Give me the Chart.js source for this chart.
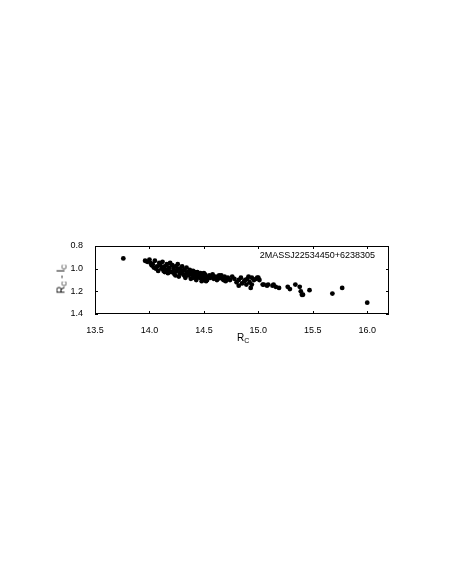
<!DOCTYPE html>
<html>
<head>
<meta charset="utf-8">
<script src="https://cdn.jsdelivr.net/npm/chart.js@4/dist/chart.umd.min.js"></script>
<style>
  html, body { margin: 0; padding: 0; background: #fff; }
  .wrap { position: relative; width: 452px; height: 585px; }
  canvas { position: absolute; left: 0; top: 0; }
  .axis-title { position: absolute; font: 10px "Liberation Sans", Arial, sans-serif; color: #000; white-space: nowrap; }
  .axis-title sub { font-size: 7px; vertical-align: -2px; }
  .x-title { left: 237px; top: 332px; }
  .y-title { left: 47px; top: 273px; transform: rotate(-90deg); transform-origin: center; }
</style>
</head>
<body>
<div class="wrap">
  <canvas id="cmd" width="452" height="585"></canvas>
  <div class="axis-title x-title">R<sub>C</sub></div>
  <div class="axis-title y-title">R<sub>C</sub> - I<sub>C</sub></div>
</div>
<script>
// Photometry (Rc magnitude vs Rc - Ic colour)
const starName = "2MASSJ22534450+6238305";
const magR = [
  13.76,
  13.96, 13.98, 14.00, 14.01, 14.02, 14.03, 14.04, 14.05, 14.06, 14.07, 14.08, 14.09,
  14.10, 14.11, 14.12, 14.12, 14.13, 14.14, 14.14, 14.15, 14.16, 14.17, 14.18, 14.18,
  14.19, 14.20, 14.21, 14.22, 14.22, 14.23, 14.24, 14.24, 14.25, 14.26, 14.26, 14.27,
  14.28, 14.28, 14.29, 14.30, 14.30, 14.31, 14.32, 14.32, 14.33, 14.34, 14.34, 14.35,
  14.36, 14.36, 14.37, 14.38, 14.38, 14.39, 14.40, 14.40, 14.41, 14.42, 14.42, 14.43,
  14.44, 14.44, 14.45, 14.46, 14.46, 14.47, 14.48, 14.48, 14.49, 14.50, 14.50, 14.51,
  14.52, 14.52, 14.53, 14.54, 14.55, 14.56, 14.57, 14.58, 14.59, 14.60, 14.61, 14.62,
  14.63, 14.64, 14.65, 14.66, 14.67, 14.68, 14.69, 14.70, 14.71, 14.72, 14.74, 14.76,
  14.78, 14.80, 14.82, 14.82, 14.84, 14.85, 14.87, 14.88, 14.89, 14.90, 14.91, 14.92,
  14.93, 14.94, 14.94, 14.96, 14.98, 14.99, 15.00, 15.01,
  15.04, 15.05, 15.08, 15.09, 15.13, 15.14, 15.16, 15.19, 15.27, 15.29, 15.34, 15.38,
  15.39, 15.40, 15.41, 15.47, 15.68, 15.77, 16.00
];
const colourRI = [
  0.91,
  0.93, 0.94, 0.92, 0.95, 0.97, 0.96, 0.99, 0.93, 1.00, 0.98, 1.02, 0.95,
  0.97, 1.00, 0.94, 0.99, 1.02, 0.98, 1.03, 1.01, 0.96, 1.04, 0.99, 1.02,
  0.95, 1.03, 0.97, 1.00, 1.03, 1.05, 0.98, 1.06, 1.02, 0.96, 1.00, 1.07,
  1.00, 1.04, 1.03, 0.98, 1.02, 1.05, 1.01, 1.06, 1.08, 0.99, 1.04, 1.03,
  1.06, 1.03, 1.01, 1.09, 1.05, 1.04, 1.02, 1.08, 1.07, 1.05, 1.03, 1.10,
  1.03, 1.07, 1.06, 1.08, 1.05, 1.04, 1.11, 1.08, 1.06, 1.09, 1.04, 1.05,
  1.07, 1.11, 1.10, 1.08, 1.06, 1.08, 1.07, 1.05, 1.09, 1.08, 1.07, 1.10,
  1.09, 1.06, 1.08, 1.06, 1.09, 1.10, 1.07, 1.11, 1.09, 1.08, 1.10, 1.07,
  1.09, 1.12, 1.10, 1.15, 1.08, 1.13, 1.11, 1.10, 1.14, 1.09, 1.07, 1.12,
  1.17, 1.14, 1.08, 1.10, 1.09, 1.08, 1.08, 1.10,
  1.14, 1.14, 1.15, 1.14, 1.15, 1.14, 1.16, 1.17, 1.16, 1.18, 1.14, 1.16,
  1.20, 1.23, 1.23, 1.19, 1.22, 1.17, 1.30
];
const xTicks = [13.5, 14.0, 14.5, 15.0, 15.5, 16.0];
const yTicks = [0.8, 1.0, 1.2, 1.4];

(function initChart() {
  const canvas = document.getElementById("cmd");
  const points = magR.map((m, i) => ({ x: m, y: colourRI[i] }));
  const fontSpec = { family: "'Liberation Sans', Arial, sans-serif", size: 9 };

  // Frame box plus inward tick marks on all four sides
  const frameTicks = {
    id: "frameTicks",
    afterDatasetsDraw(chart) {
      const { ctx, chartArea: a, scales } = chart;
      const len = 3;
      ctx.save();
      ctx.strokeStyle = "#000";
      ctx.lineWidth = 1;
      ctx.strokeRect(a.left + 0.5, a.top + 0.5, a.right - a.left - 1, a.bottom - a.top - 1);
      ctx.beginPath();
      xTicks.forEach((v) => {
        const px = Math.round(scales.x.getPixelForValue(v)) + 0.5;
        ctx.moveTo(px, a.bottom); ctx.lineTo(px, a.bottom - len);
        ctx.moveTo(px, a.top); ctx.lineTo(px, a.top + len);
      });
      yTicks.forEach((v) => {
        const py = Math.round(scales.y.getPixelForValue(v)) + 0.5;
        ctx.moveTo(a.left, py); ctx.lineTo(a.left + len, py);
        ctx.moveTo(a.right, py); ctx.lineTo(a.right - len, py);
      });
      ctx.stroke();

      // object label in the upper right corner
      ctx.fillStyle = "#000";
      ctx.font = "9px 'Liberation Sans', Arial, sans-serif";
      ctx.textAlign = "right";
      ctx.textBaseline = "middle";
      ctx.fillText(starName, a.right - 14, a.top + 10);
      ctx.restore();
    }
  };

  new Chart(canvas, {
    type: "scatter",
    data: {
      datasets: [
        {
          data: points,
          backgroundColor: "#000",
          borderColor: "#000",
          pointRadius: 2.4,
          pointHoverRadius: 2.4,
          borderWidth: 0
        }
      ]
    },
    options: {
      responsive: false,
      animation: false,
      events: [],
      layout: { padding: { left: 65, top: 246, right: 63, bottom: 251 } },
      plugins: { legend: { display: false }, tooltip: { enabled: false } },
      scales: {
        x: {
          type: "linear",
          min: 13.5,
          max: 16.2,
          afterBuildTicks: (scale) => { scale.ticks = xTicks.map((v) => ({ value: v })); },
          afterFit: (scale) => { scale.height = 20; },
          grid: { display: false },
          border: { display: false },
          ticks: {
            color: "#000",
            font: fontSpec,
            padding: 3,
            maxRotation: 0,
            callback: (v) => Number(v).toFixed(1)
          }
        },
        y: {
          type: "linear",
          reverse: true,
          min: 0.8,
          max: 1.4,
          afterBuildTicks: (scale) => { scale.ticks = yTicks.map((v) => ({ value: v })); },
          afterFit: (scale) => { scale.width = 30; },
          grid: { display: false },
          border: { display: false },
          ticks: {
            color: "#000",
            font: fontSpec,
            padding: 4,
            callback: (v) => Number(v).toFixed(1)
          }
        }
      }
    },
    plugins: [frameTicks]
  });
})();
</script>
</body>
</html>
